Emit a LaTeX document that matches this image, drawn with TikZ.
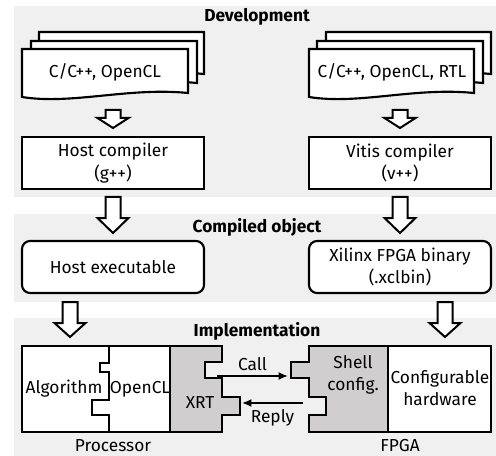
\documentclass[tikz,border=0pt]{standalone}
\usepackage{fontspec}
\setmainfont{Fira Sans}
\definecolor{panel}{RGB}{240,240,240}
\definecolor{part}{RGB}{208,206,206}
\tikzset{
  ln/.style={line width=1.6pt, line join=miter},
  box/.style={ln, draw, fill=white, align=center, inner sep=0pt, minimum width=136.5pt, minimum height=39pt, font=\fontsize{13}{17}\selectfont},
  rbox/.style={box, rounded corners=6pt},
  txt/.style={align=center, inner sep=0pt, font=\fontsize{13}{17}\selectfont},
  ttl/.style={inner sep=0pt, font=\bfseries\fontsize{13}{15}\selectfont},
  harrow/.style={ln, draw, fill=white, line width=1.5pt},
  conn/.style={line width=1.3pt, -{Latex[length=7pt,width=6pt]}}
}
\usetikzlibrary{arrows.meta}
\newcommand{\hollowarrow}[4]{% x, ytop, ybase, yapex
  \draw[harrow] (#1-7.5,#2) -- (#1+7.5,#2) -- (#1+7.5,#3) -- (#1+15.5,#3) -- (#1,#4) -- (#1-15.5,#3) -- (#1-7.5,#3) -- cycle;}
\newcommand{\docshape}[4]{% left, top, right, bottom-left
  \draw[ln, fill=white] (#1,#4) -- (#1,#2) -- (#3,#2) -- (#3,#4-4) .. controls (#3-60,#4-10) and (#1+50,#4+8) .. (#1,#4) -- cycle;}
\begin{document}
\begin{tikzpicture}[x=0.75pt,y=-0.75pt]
\useasboundingbox (0,0) rectangle (496,456);
% panels
\fill[panel] (14,6) rectangle (496,197);
\fill[panel] (14,214) rectangle (496,302);
\fill[panel] (14,318) rectangle (496,456);
\node[ttl] (t1) at (257,17) {Development};
\node[ttl] (t2) at (257,227) {Compiled object};
\node[ttl] (t3) at (257,331) {Implementation};
% document stacks
\docshape{39}{32}{204}{78}
\docshape{31}{41}{197}{87}
\docshape{22}{49}{188}{97}
\node[txt] (src1) at (105,72) {C/C++, OpenCL};
\docshape{326}{32}{491}{78}
\docshape{317}{41}{483}{87}
\docshape{309}{49}{474}{97}
\node[txt] (src2) at (392,72) {C/C++, OpenCL, RTL};
% small arrows
\hollowarrow{113}{110}{118}{128}
\hollowarrow{400}{110}{118}{128}
% compilers
\node[box] (hc) at (113,163) {Host compiler\\(g++)};
\node[box] (vc) at (400,163) {Vitis compiler\\(v++)};
% big arrows
\hollowarrow{113}{197}{218}{233}
\hollowarrow{400}{197}{218}{233}
% compiled objects
\node[rbox] (he) at (113,267) {Host executable};
\node[rbox] (xb) at (400,267) {Xilinx FPGA binary\\(.xclbin)};
% arrows into implementation
\hollowarrow{70}{302}{323}{337}
\hollowarrow{445}{302}{323}{337}
% processor
\draw[ln, fill=white] (22,346) rectangle (170,432);
\draw[ln] (109,346) -- (109,363) -- (100,363) -- (100,372) -- (109,372) -- (109,400) -- (92,400) -- (92,415) -- (109,415) -- (109,432);
\node[txt] (alg) at (64,389) {Algorithm};
\node[txt] (ocl) at (140,389) {OpenCL};
\draw[ln, fill=part] (170,346) -- (222,346) -- (222,362) -- (205,362) -- (205,378) -- (222,378) -- (222,397) -- (240,397) -- (240,415) -- (222,415) -- (222,432) -- (170,432) -- cycle;
\node[txt] (xrt) at (200,403) {XRT};
% fpga
\draw[ln, fill=part] (388,346) -- (309,346) -- (309,362) -- (291,362) -- (291,378) -- (309,378) -- (309,397) -- (326,397) -- (326,415) -- (309,415) -- (309,432) -- (388,432) -- cycle;
\node[txt] (shell) at (353,375) {Shell\\config.};
\draw[ln, fill=white] (388,346) rectangle (491,432);
\node[txt] (cfg) at (440,388) {Configurable\\hardware};
% call / reply
\coordinate (cs) at (217,376);
\coordinate (ce) at (288,376);
\draw[conn] (cs) -- node[above=3pt, txt] (calllbl) {Call} (ce);
\coordinate (rs) at (303,403);
\coordinate (re) at (242,403);
\draw[conn] (rs) -- node[below=4pt, txt] (replylbl) {Reply} (re);
\node[txt] (proc) at (113,446) {Processor};
\node[txt] (fpga) at (400,446) {FPGA};
\end{tikzpicture}
\end{document}
